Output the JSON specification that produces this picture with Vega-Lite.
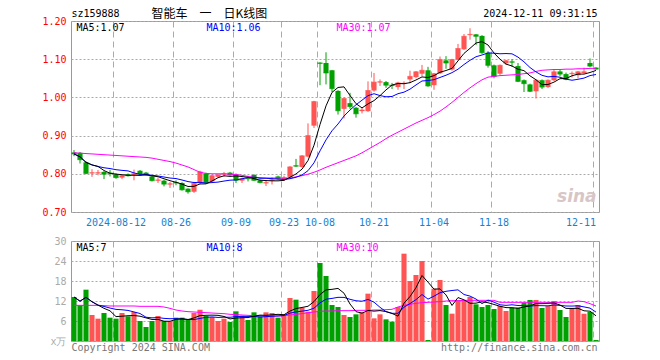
{
"$schema": "https://vega.github.io/schema/vega-lite/v6.json",
"background": "white",
"padding": {"left": 41, "top": 7, "right": 5, "bottom": 5},
"config": {"view": {"stroke": "#999999", "strokeWidth": 1}, "font": "DejaVu Sans Mono", "axis": {"labelOverlap": false, "labelBound": false, "labelFlush": false}},
"bounds": "flush",
"spacing": 29,
"data": {"values": [
{"d":"2024-08-01","o":0.856,"h":0.862,"l":0.846,"c":0.852,"v":13.2,"m30":0.855,"vm30":10.7},
{"d":"2024-08-02","o":0.855,"h":0.857,"l":0.827,"c":0.837,"v":10.7,"m30":0.854,"vm30":10.7},
{"d":"2024-08-05","o":0.830,"h":0.833,"l":0.799,"c":0.801,"v":15.4,"m30":0.853,"vm30":10.7},
{"d":"2024-08-06","o":0.801,"h":0.812,"l":0.792,"c":0.803,"v":7.8,"m30":0.852,"vm30":10.7},
{"d":"2024-08-07","o":0.801,"h":0.810,"l":0.796,"c":0.803,"v":6.7,"m30":0.851,"vm30":10.7},
{"d":"2024-08-08","o":0.805,"h":0.807,"l":0.786,"c":0.799,"v":8.4,"m30":0.850,"vm30":10.6},
{"d":"2024-08-09","o":0.803,"h":0.810,"l":0.793,"c":0.801,"v":7.0,"m30":0.849,"vm30":10.5},
{"d":"2024-08-12","o":0.799,"h":0.801,"l":0.787,"c":0.790,"v":6.7,"m30":0.848,"vm30":10.5},
{"d":"2024-08-13","o":0.790,"h":0.797,"l":0.786,"c":0.795,"v":8.4,"m30":0.847,"vm30":10.5},
{"d":"2024-08-14","o":0.799,"h":0.801,"l":0.793,"c":0.795,"v":7.4,"m30":0.846,"vm30":10.5},
{"d":"2024-08-15","o":0.797,"h":0.811,"l":0.783,"c":0.800,"v":8.7,"m30":0.845,"vm30":10.5},
{"d":"2024-08-16","o":0.808,"h":0.810,"l":0.797,"c":0.799,"v":6.0,"m30":0.844,"vm30":10.4},
{"d":"2024-08-19","o":0.803,"h":0.805,"l":0.795,"c":0.797,"v":4.2,"m30":0.843,"vm30":10.4},
{"d":"2024-08-20","o":0.793,"h":0.795,"l":0.780,"c":0.782,"v":6.0,"m30":0.841,"vm30":10.4},
{"d":"2024-08-21","o":0.782,"h":0.790,"l":0.776,"c":0.784,"v":7.5,"m30":0.838,"vm30":10.4},
{"d":"2024-08-22","o":0.782,"h":0.784,"l":0.767,"c":0.773,"v":6.0,"m30":0.835,"vm30":10.2},
{"d":"2024-08-23","o":0.772,"h":0.779,"l":0.763,"c":0.774,"v":5.9,"m30":0.832,"vm30":9.8},
{"d":"2024-08-26","o":0.778,"h":0.783,"l":0.770,"c":0.776,"v":7.0,"m30":0.828,"vm30":9.3},
{"d":"2024-08-27","o":0.776,"h":0.778,"l":0.756,"c":0.758,"v":7.0,"m30":0.823,"vm30":9.0},
{"d":"2024-08-28","o":0.761,"h":0.762,"l":0.748,"c":0.753,"v":6.3,"m30":0.818,"vm30":8.8},
{"d":"2024-08-29","o":0.753,"h":0.779,"l":0.750,"c":0.775,"v":8.4,"m30":0.811,"vm30":8.7},
{"d":"2024-08-30","o":0.775,"h":0.808,"l":0.773,"c":0.805,"v":9.4,"m30":0.804,"vm30":8.6},
{"d":"2024-09-02","o":0.801,"h":0.803,"l":0.775,"c":0.777,"v":7.5,"m30":0.801,"vm30":8.5},
{"d":"2024-09-03","o":0.780,"h":0.797,"l":0.778,"c":0.795,"v":7.2,"m30":0.800,"vm30":8.4},
{"d":"2024-09-04","o":0.792,"h":0.799,"l":0.790,"c":0.797,"v":6.0,"m30":0.800,"vm30":8.3},
{"d":"2024-09-05","o":0.798,"h":0.805,"l":0.792,"c":0.800,"v":6.7,"m30":0.800,"vm30":8.2},
{"d":"2024-09-06","o":0.803,"h":0.805,"l":0.795,"c":0.797,"v":5.7,"m30":0.799,"vm30":8.0},
{"d":"2024-09-09","o":0.799,"h":0.801,"l":0.776,"c":0.783,"v":8.9,"m30":0.798,"vm30":7.9},
{"d":"2024-09-10","o":0.782,"h":0.790,"l":0.776,"c":0.787,"v":7.6,"m30":0.796,"vm30":7.8},
{"d":"2024-09-11","o":0.789,"h":0.795,"l":0.780,"c":0.787,"v":6.3,"m30":0.793,"vm30":7.7},
{"d":"2024-09-12","o":0.797,"h":0.799,"l":0.781,"c":0.783,"v":8.6,"m30":0.791,"vm30":7.6},
{"d":"2024-09-13","o":0.783,"h":0.785,"l":0.775,"c":0.777,"v":7.4,"m30":0.790,"vm30":7.6},
{"d":"2024-09-18","o":0.775,"h":0.783,"l":0.768,"c":0.777,"v":8.6,"m30":0.789,"vm30":7.5},
{"d":"2024-09-19","o":0.782,"h":0.791,"l":0.772,"c":0.784,"v":8.4,"m30":0.789,"vm30":7.5},
{"d":"2024-09-20","o":0.793,"h":0.795,"l":0.785,"c":0.787,"v":7.0,"m30":0.789,"vm30":7.5},
{"d":"2024-09-23","o":0.785,"h":0.795,"l":0.782,"c":0.789,"v":8.0,"m30":0.789,"vm30":7.6},
{"d":"2024-09-24","o":0.792,"h":0.820,"l":0.788,"c":0.818,"v":12.9,"m30":0.789,"vm30":7.8},
{"d":"2024-09-25","o":0.822,"h":0.839,"l":0.818,"c":0.820,"v":12.4,"m30":0.792,"vm30":8.0},
{"d":"2024-09-26","o":0.818,"h":0.849,"l":0.816,"c":0.847,"v":10.0,"m30":0.795,"vm30":8.2},
{"d":"2024-09-27","o":0.845,"h":0.932,"l":0.843,"c":0.900,"v":8.8,"m30":0.799,"vm30":8.5},
{"d":"2024-09-30","o":0.926,"h":0.991,"l":0.920,"c":0.989,"v":15.0,"m30":0.804,"vm30":8.7},
{"d":"2024-10-08","o":1.091,"h":1.092,"l":1.032,"c":1.089,"v":23.4,"m30":0.810,"vm30":8.9},
{"d":"2024-10-09","o":1.090,"h":1.118,"l":1.034,"c":1.064,"v":19.5,"m30":0.817,"vm30":9.0},
{"d":"2024-10-10","o":1.071,"h":1.072,"l":1.014,"c":1.023,"v":10.8,"m30":0.823,"vm30":9.0},
{"d":"2024-10-11","o":1.017,"h":1.019,"l":0.955,"c":0.965,"v":10.2,"m30":0.829,"vm30":9.1},
{"d":"2024-10-14","o":0.970,"h":1.000,"l":0.945,"c":0.997,"v":7.8,"m30":0.835,"vm30":9.1},
{"d":"2024-10-15","o":0.985,"h":1.012,"l":0.970,"c":0.976,"v":7.2,"m30":0.841,"vm30":9.1},
{"d":"2024-10-16","o":0.973,"h":0.975,"l":0.947,"c":0.957,"v":8.0,"m30":0.847,"vm30":9.2},
{"d":"2024-10-17","o":0.964,"h":0.972,"l":0.958,"c":0.967,"v":8.6,"m30":0.855,"vm30":9.2},
{"d":"2024-10-18","o":0.964,"h":1.042,"l":0.962,"c":1.018,"v":14.2,"m30":0.864,"vm30":9.2},
{"d":"2024-10-21","o":1.018,"h":1.064,"l":1.015,"c":1.040,"v":6.8,"m30":0.873,"vm30":9.3},
{"d":"2024-10-22","o":1.039,"h":1.047,"l":1.030,"c":1.041,"v":8.0,"m30":0.882,"vm30":9.3},
{"d":"2024-10-23","o":1.040,"h":1.043,"l":1.025,"c":1.032,"v":6.5,"m30":0.892,"vm30":9.4},
{"d":"2024-10-24","o":1.033,"h":1.038,"l":1.022,"c":1.031,"v":5.8,"m30":0.901,"vm30":9.5},
{"d":"2024-10-25","o":1.027,"h":1.041,"l":1.020,"c":1.038,"v":10.2,"m30":0.909,"vm30":10.2},
{"d":"2024-10-28","o":1.035,"h":1.042,"l":1.022,"c":1.037,"v":26.2,"m30":0.917,"vm30":10.7},
{"d":"2024-10-29","o":1.047,"h":1.070,"l":1.037,"c":1.055,"v":18.0,"m30":0.925,"vm30":11.0},
{"d":"2024-10-30","o":1.053,"h":1.069,"l":1.050,"c":1.067,"v":19.8,"m30":0.933,"vm30":11.3},
{"d":"2024-10-31","o":1.062,"h":1.085,"l":1.055,"c":1.071,"v":24.0,"m30":0.940,"vm30":11.5},
{"d":"2024-11-01","o":1.071,"h":1.080,"l":1.028,"c":1.030,"v":0.3,"m30":0.947,"vm30":11.6},
{"d":"2024-11-04","o":1.032,"h":1.064,"l":1.020,"c":1.062,"v":15.7,"m30":0.955,"vm30":11.7},
{"d":"2024-11-05","o":1.063,"h":1.107,"l":1.061,"c":1.099,"v":18.3,"m30":0.964,"vm30":11.8},
{"d":"2024-11-06","o":1.097,"h":1.108,"l":1.075,"c":1.090,"v":10.8,"m30":0.975,"vm30":12.0},
{"d":"2024-11-07","o":1.073,"h":1.101,"l":1.070,"c":1.099,"v":8.2,"m30":0.987,"vm30":12.1},
{"d":"2024-11-08","o":1.099,"h":1.140,"l":1.097,"c":1.128,"v":12.2,"m30":1.000,"vm30":12.1},
{"d":"2024-11-11","o":1.126,"h":1.166,"l":1.124,"c":1.160,"v":12.2,"m30":1.013,"vm30":12.2},
{"d":"2024-11-12","o":1.163,"h":1.181,"l":1.151,"c":1.165,"v":13.2,"m30":1.025,"vm30":12.2},
{"d":"2024-11-13","o":1.165,"h":1.166,"l":1.137,"c":1.160,"v":11.0,"m30":1.036,"vm30":12.2},
{"d":"2024-11-14","o":1.161,"h":1.163,"l":1.114,"c":1.117,"v":10.2,"m30":1.046,"vm30":12.2},
{"d":"2024-11-15","o":1.117,"h":1.121,"l":1.078,"c":1.084,"v":10.8,"m30":1.053,"vm30":12.2},
{"d":"2024-11-18","o":1.084,"h":1.086,"l":1.050,"c":1.055,"v":9.6,"m30":1.055,"vm30":12.2},
{"d":"2024-11-19","o":1.062,"h":1.086,"l":1.058,"c":1.084,"v":10.5,"m30":1.057,"vm30":11.6},
{"d":"2024-11-20","o":1.089,"h":1.098,"l":1.085,"c":1.096,"v":9.0,"m30":1.058,"vm30":11.6},
{"d":"2024-11-21","o":1.094,"h":1.100,"l":1.080,"c":1.092,"v":10.0,"m30":1.059,"vm30":11.6},
{"d":"2024-11-22","o":1.082,"h":1.090,"l":1.040,"c":1.042,"v":10.0,"m30":1.060,"vm30":11.6},
{"d":"2024-11-25","o":1.045,"h":1.047,"l":1.014,"c":1.036,"v":11.5,"m30":1.062,"vm30":11.6},
{"d":"2024-11-26","o":1.034,"h":1.036,"l":1.014,"c":1.016,"v":12.3,"m30":1.064,"vm30":11.6},
{"d":"2024-11-27","o":1.016,"h":1.047,"l":0.997,"c":1.045,"v":12.3,"m30":1.068,"vm30":11.6},
{"d":"2024-11-28","o":1.045,"h":1.047,"l":1.022,"c":1.027,"v":9.9,"m30":1.071,"vm30":11.6},
{"d":"2024-11-29","o":1.027,"h":1.047,"l":1.025,"c":1.045,"v":10.5,"m30":1.072,"vm30":11.6},
{"d":"2024-12-02","o":1.045,"h":1.072,"l":1.043,"c":1.067,"v":12.0,"m30":1.073,"vm30":11.6},
{"d":"2024-12-03","o":1.068,"h":1.072,"l":1.055,"c":1.061,"v":9.3,"m30":1.073,"vm30":11.6},
{"d":"2024-12-04","o":1.061,"h":1.065,"l":1.045,"c":1.047,"v":7.2,"m30":1.074,"vm30":11.6},
{"d":"2024-12-05","o":1.061,"h":1.068,"l":1.052,"c":1.063,"v":9.8,"m30":1.074,"vm30":11.6},
{"d":"2024-12-06","o":1.058,"h":1.069,"l":1.050,"c":1.067,"v":10.8,"m30":1.075,"vm30":12.0},
{"d":"2024-12-09","o":1.064,"h":1.078,"l":1.062,"c":1.067,"v":8.2,"m30":1.075,"vm30":11.8},
{"d":"2024-12-10","o":1.090,"h":1.102,"l":1.079,"c":1.082,"v":8.7,"m30":1.076,"vm30":11.2},
{"d":"2024-12-11","o":1.078,"h":1.079,"l":1.073,"c":1.074,"v":0.3,"m30":1.076,"vm30":10.5}
]},
"vconcat": [
{
"width": 528, "height": 191,
"encoding": {"x": {"field": "d", "type": "ordinal", "scale": {"paddingInner": 0.15, "paddingOuter": 0.075},
  "axis": {"values": ["2024-08-12","2024-08-26","2024-09-09","2024-09-23","2024-10-08","2024-10-21","2024-11-04","2024-11-18","2024-12-11"],
   "labelExpr": "datum.value == '2024-08-12' ? datum.value : substring(datum.value, 5)",
   "labelAlign": {"condition": {"test": "datum.value == '2024-12-11'", "value": "right"}, "value": "center"},
   "bandPosition": 0, "grid": true, "gridDash": [6,4], "gridColor": "#aaaaaa", "ticks": false, "domain": false,
   "labelColor": "#1a7fd0", "labelFont": "DejaVu Sans Mono", "labelFontSize": 10, "labelPadding": 5, "labelAngle": 0, "labelOverlap": false, "title": null}}},
"layer": [
 {"mark": {"type": "rule", "strokeWidth": 1},
  "encoding": {"y": {"field": "l", "type": "quantitative", "title": null, "scale": {"domain": [0.7, 1.2], "zero": false, "nice": false},
     "axis": {"values": [0.7,0.8,0.9,1.0,1.1,1.2], "tickCount": 20, "format": ".2f", "labelColor": "#ff0000", "labelFont": "DejaVu Sans Mono", "labelFontSize": 10, "labelOverlap": false,
       "grid": true, "gridColor": "#aaaaaa", "gridDash": [2,2], "domain": false, "ticks": false, "labelPadding": 5, "title": null}},
   "y2": {"field": "h"},
   "color": {"condition": {"test": "datum.c >= datum.o", "value": "#ff5454"}, "value": "#00a000"}}},
 {"mark": {"type": "bar"},
  "encoding": {"y": {"field": "o", "type": "quantitative", "title": null}, "y2": {"field": "c"},
   "color": {"condition": {"test": "datum.c >= datum.o", "value": "#ff5454"}, "value": "#00a000"}}},
 {"mark": {"type": "tick", "thickness": 1, "size": 5},
  "encoding": {"y": {"field": "c", "type": "quantitative", "title": null},
   "color": {"condition": {"test": "datum.c >= datum.o", "value": "#ff5454"}, "value": "#00a000"}}},
 {"mark": {"type": "line", "color": "#ff00ff", "strokeWidth": 1},
  "encoding": {"y": {"field": "m30", "type": "quantitative", "title": null}}},
 {"transform": [{"window": [{"op": "mean", "field": "c", "as": "ma10"}], "frame": [-9, 0], "sort": [{"field": "d"}]}],
  "mark": {"type": "line", "color": "#0000ff", "strokeWidth": 1},
  "encoding": {"y": {"field": "ma10", "type": "quantitative", "title": null}}},
 {"transform": [{"window": [{"op": "mean", "field": "c", "as": "ma5"}], "frame": [-4, 0], "sort": [{"field": "d"}]}],
  "mark": {"type": "line", "color": "#000000", "strokeWidth": 1},
  "encoding": {"y": {"field": "ma5", "type": "quantitative", "title": null}}},
 {"data": {"values": [{}]},
  "mark": {"type": "text", "text": "sina", "align": "right", "baseline": "bottom", "dx": -2, "dy": -6, "font": "DejaVu Sans", "fontSize": 17, "fontStyle": "italic", "fontWeight": "bold", "color": "#d8c6c6"},
  "encoding": {"x": {"datum": "2024-12-11", "type": "ordinal", "bandPosition": 1}, "y": {"datum": 0.7, "type": "quantitative", "title": null}}},
 {"data": {"values": [{}]},
  "mark": {"type": "text", "text": "sz159888", "align": "left", "baseline": "alphabetic", "dy": -4, "font": "DejaVu Sans Mono", "fontSize": 10, "color": "#000000"},
  "encoding": {"x": {"datum": "2024-08-01", "type": "ordinal", "bandPosition": 0}, "y": {"datum": 1.2, "type": "quantitative", "title": null}}},
 {"data": {"values": [{}]},
  "mark": {"type": "text", "text": "智能车\u3000一\u3000日K线图", "align": "left", "baseline": "alphabetic", "dx": 80, "dy": -3, "font": "Noto Sans CJK SC", "fontSize": 12, "color": "#000000"},
  "encoding": {"x": {"datum": "2024-08-01", "type": "ordinal", "bandPosition": 0}, "y": {"datum": 1.2, "type": "quantitative", "title": null}}},
 {"data": {"values": [{}]},
  "mark": {"type": "text", "text": "2024-12-11 09:31:15", "align": "right", "baseline": "alphabetic", "dx": -1, "dy": -4, "font": "DejaVu Sans Mono", "fontSize": 10, "color": "#000000"},
  "encoding": {"x": {"datum": "2024-12-11", "type": "ordinal", "bandPosition": 1}, "y": {"datum": 1.2, "type": "quantitative", "title": null}}},
 {"data": {"values": [{}]},
  "mark": {"type": "text", "text": "MA5:1.07", "align": "left", "baseline": "top", "dx": 5, "dy": 2, "font": "DejaVu Sans Mono", "fontSize": 10, "color": "#000000"},
  "encoding": {"x": {"datum": "2024-08-01", "type": "ordinal", "bandPosition": 0}, "y": {"datum": 1.2, "type": "quantitative", "title": null}}},
 {"data": {"values": [{}]},
  "mark": {"type": "text", "text": "MA10:1.06", "align": "left", "baseline": "top", "dx": 135, "dy": 2, "font": "DejaVu Sans Mono", "fontSize": 10, "color": "#0000ff"},
  "encoding": {"x": {"datum": "2024-08-01", "type": "ordinal", "bandPosition": 0}, "y": {"datum": 1.2, "type": "quantitative", "title": null}}},
 {"data": {"values": [{}]},
  "mark": {"type": "text", "text": "MA30:1.07", "align": "left", "baseline": "top", "dx": 265, "dy": 2, "font": "DejaVu Sans Mono", "fontSize": 10, "color": "#ff00ff"},
  "encoding": {"x": {"datum": "2024-08-01", "type": "ordinal", "bandPosition": 0}, "y": {"datum": 1.2, "type": "quantitative", "title": null}}}
]
},
{
"width": 528, "height": 100,
"encoding": {"x": {"field": "d", "type": "ordinal", "scale": {"paddingInner": 0.15, "paddingOuter": 0.075},
  "axis": {"values": ["2024-08-12","2024-08-26","2024-09-09","2024-09-23","2024-10-08","2024-10-21","2024-11-04","2024-11-18","2024-12-11"],
   "labels": false, "bandPosition": 0, "grid": true, "gridDash": [6,4], "gridColor": "#aaaaaa", "ticks": false, "domain": false, "title": null}}},
"layer": [
 {"mark": {"type": "bar"},
  "encoding": {"y": {"field": "v", "type": "quantitative", "title": null, "scale": {"domain": [0, 30], "nice": false},
     "axis": {"values": [0,6,12,18,24,30], "tickCount": 20, "labelExpr": "datum.value == 0 ? 'x万' : datum.label", "labelColor": "#aaaaaa", "labelFont": "DejaVu Sans Mono", "labelFontSize": 10, "labelOverlap": false,
       "grid": true, "gridColor": "#aaaaaa", "gridDash": [2,2], "domain": false, "ticks": false, "labelPadding": 5, "title": null}},
   "color": {"condition": {"test": "datum.c >= datum.o", "value": "#ff5454"}, "value": "#00a000"}}},
 {"mark": {"type": "line", "color": "#ff00ff", "strokeWidth": 1},
  "encoding": {"y": {"field": "vm30", "type": "quantitative", "title": null}}},
 {"transform": [{"window": [{"op": "mean", "field": "v", "as": "vma10"}], "frame": [-9, 0], "sort": [{"field": "d"}]}],
  "mark": {"type": "line", "color": "#0000ff", "strokeWidth": 1},
  "encoding": {"y": {"field": "vma10", "type": "quantitative", "title": null}}},
 {"transform": [{"window": [{"op": "mean", "field": "v", "as": "vma5"}], "frame": [-4, 0], "sort": [{"field": "d"}]}],
  "mark": {"type": "line", "color": "#000000", "strokeWidth": 1},
  "encoding": {"y": {"field": "vma5", "type": "quantitative", "title": null}}},
 {"data": {"values": [{}]},
  "mark": {"type": "text", "text": "MA5:7", "align": "left", "baseline": "top", "dx": 5, "dy": 2, "font": "DejaVu Sans Mono", "fontSize": 10, "color": "#000000"},
  "encoding": {"x": {"datum": "2024-08-01", "type": "ordinal", "bandPosition": 0}, "y": {"datum": 30, "type": "quantitative", "title": null}}},
 {"data": {"values": [{}]},
  "mark": {"type": "text", "text": "MA10:8", "align": "left", "baseline": "top", "dx": 135, "dy": 2, "font": "DejaVu Sans Mono", "fontSize": 10, "color": "#0000ff"},
  "encoding": {"x": {"datum": "2024-08-01", "type": "ordinal", "bandPosition": 0}, "y": {"datum": 30, "type": "quantitative", "title": null}}},
 {"data": {"values": [{}]},
  "mark": {"type": "text", "text": "MA30:10", "align": "left", "baseline": "top", "dx": 265, "dy": 2, "font": "DejaVu Sans Mono", "fontSize": 10, "color": "#ff00ff"},
  "encoding": {"x": {"datum": "2024-08-01", "type": "ordinal", "bandPosition": 0}, "y": {"datum": 30, "type": "quantitative", "title": null}}},
 {"data": {"values": [{}]},
  "mark": {"type": "text", "text": "Copyright 2024 SINA.COM", "align": "left", "baseline": "top", "dy": 2, "font": "DejaVu Sans Mono", "fontSize": 10, "color": "#777777"},
  "encoding": {"x": {"datum": "2024-08-01", "type": "ordinal", "bandPosition": 0}, "y": {"datum": 0, "type": "quantitative", "title": null}}},
 {"data": {"values": [{}]},
  "mark": {"type": "text", "text": "http://finance.sina.com.cn", "align": "right", "baseline": "top", "dx": -1, "dy": 2, "font": "DejaVu Sans Mono", "fontSize": 10, "color": "#777777"},
  "encoding": {"x": {"datum": "2024-12-11", "type": "ordinal", "bandPosition": 1}, "y": {"datum": 0, "type": "quantitative", "title": null}}}
]
}
]
}
